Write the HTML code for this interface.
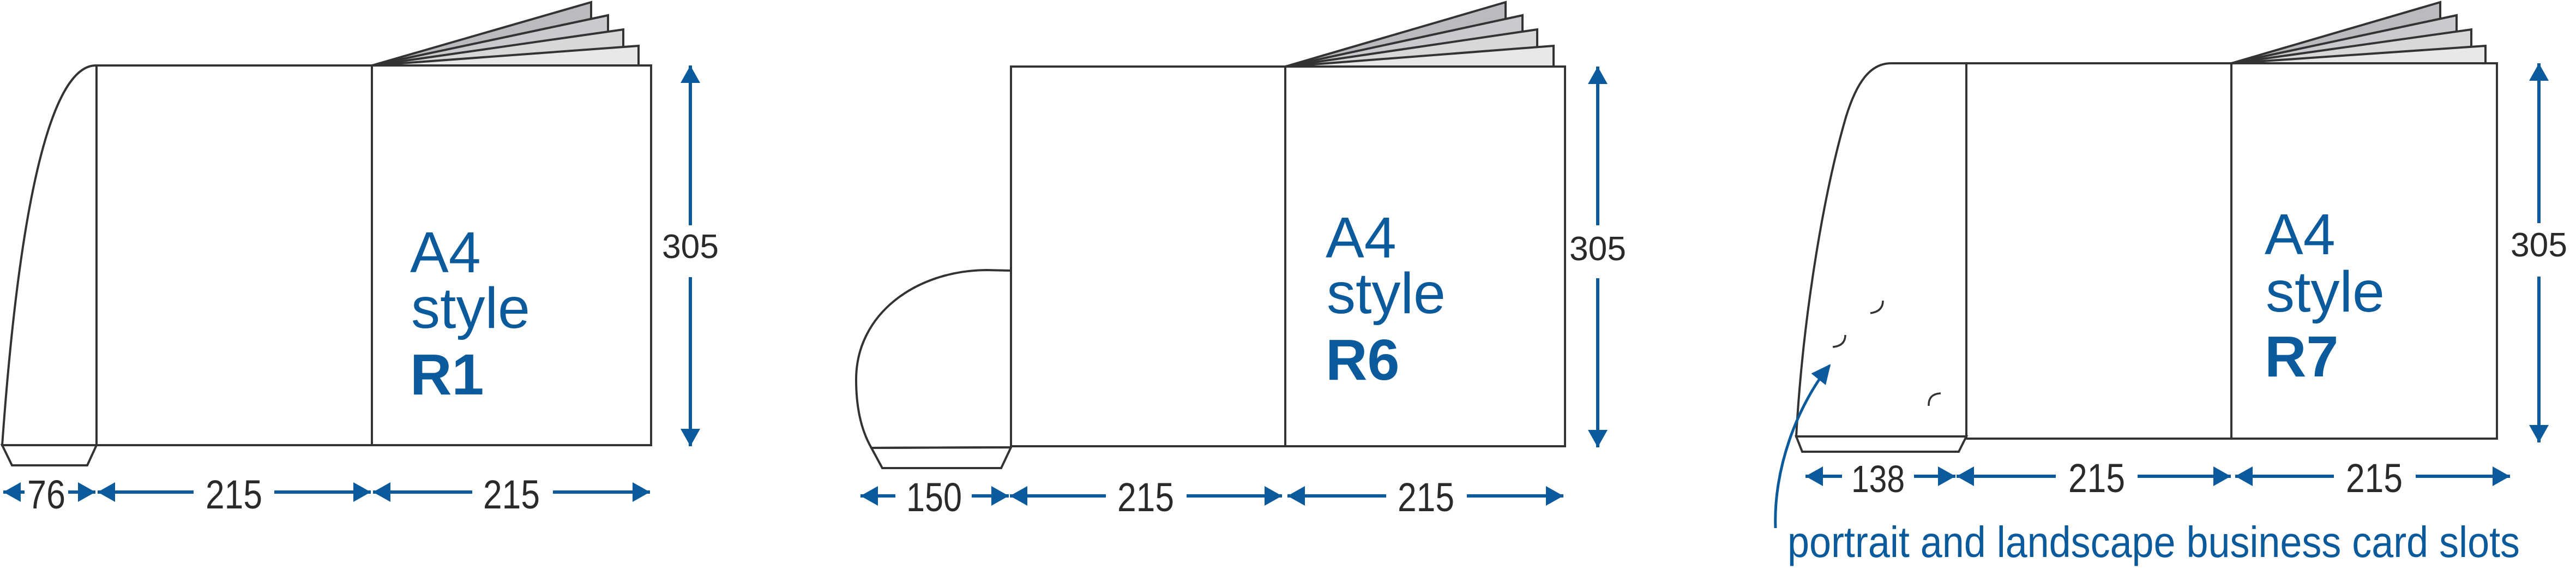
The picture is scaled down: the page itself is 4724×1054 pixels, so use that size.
<!DOCTYPE html>
<html><head><meta charset="utf-8"><style>html,body{margin:0;padding:0;background:#fff}svg{display:block}</style></head>
<body>
<svg width="4724" height="1054" viewBox="0 0 4724 1054" xmlns="http://www.w3.org/2000/svg">
<defs>
<marker id="ah" viewBox="0 0 10 10" refX="10" refY="5" markerWidth="32" markerHeight="36" markerUnits="userSpaceOnUse" orient="auto-start-reverse" preserveAspectRatio="none">
<path d="M0,0 L10,5 L0,10 z" fill="#0b5a9c"/></marker>
<marker id="ah2" viewBox="0 0 10 10" refX="9" refY="5" markerWidth="36" markerHeight="34" markerUnits="userSpaceOnUse" orient="auto" preserveAspectRatio="none">
<path d="M0,0 L10,5 L0,10 z" fill="#0b5a9c"/></marker>
</defs>
<g fill="none" stroke="#333" stroke-width="4" stroke-linejoin="miter">
<!-- R1 -->
<polygon points="682,120 1084,4 1084,120" fill="#b9bbbe"/>
<polygon points="682,120 1115,28 1115,120" fill="#c9cacd"/>
<polygon points="682,120 1143,54 1143,120" fill="#d7d8da"/>
<polygon points="682,120 1171,84 1171,120" fill="#e7e8e9"/>
<rect x="177" y="120" width="1017" height="696" fill="#fff"/>
<path d="M177,120 C120,118 45,240 4,816 L177,816" fill="#fff"/>
<line x1="177" y1="120" x2="177" y2="816"/>
<line x1="682" y1="120" x2="682" y2="816"/>
<polygon points="4,816 22,853 160,853 177,816"/>
<!-- R6 -->
<polygon points="2357,122 2761,4 2761,122" fill="#b9bbbe"/>
<polygon points="2357,122 2792,28 2792,122" fill="#c9cacd"/>
<polygon points="2357,122 2819,54 2819,122" fill="#d7d8da"/>
<polygon points="2357,122 2849,84 2849,122" fill="#e7e8e9"/>
<rect x="1854" y="122" width="1016" height="696" fill="#fff"/>
<line x1="2357" y1="122" x2="2357" y2="818"/>
<path d="M1852,496 L1809,495 C1680,496 1570,575 1570,696 C1570,755 1583,795 1598,821 L1854,820"/>
<polygon points="1598,821 1618,858 1836,858 1854,820"/>
<!-- R7 -->
<polygon points="4092,116 4475,4 4475,116" fill="#b9bbbe"/>
<polygon points="4092,116 4505,28 4505,116" fill="#c9cacd"/>
<polygon points="4092,116 4532,54 4532,116" fill="#d7d8da"/>
<polygon points="4092,116 4558,84 4558,116" fill="#e7e8e9"/>
<rect x="3606" y="116" width="973" height="688" fill="#fff"/>
<path d="M3606,116 L3468,116 C3430,116 3405,150 3385,215 C3340,370 3305,600 3294,800 L3606,800" fill="#fff"/>
<line x1="3606" y1="116" x2="3606" y2="804"/>
<line x1="4092" y1="116" x2="4092" y2="804"/>
<polygon points="3294,800 3305,828 3592,828 3606,800"/>
</g>
<g fill="none" stroke="#333" stroke-width="3.5">
<path d="M3453,551 q0,20 -23,23"/>
<path d="M3384,614 q0,20 -23,22"/>
<path d="M3537,744 q-1,-22 22,-23"/>
</g>
<!-- dimension arrows -->
<g stroke="#0b5a9c" stroke-width="6" fill="none">
<line x1="6" y1="902" x2="175" y2="902" marker-start="url(#ah)" marker-end="url(#ah)"/>
<line x1="179" y1="902" x2="680" y2="902" marker-start="url(#ah)" marker-end="url(#ah)"/>
<line x1="684" y1="902" x2="1192" y2="902" marker-start="url(#ah)" marker-end="url(#ah)"/>
<line x1="1266" y1="120" x2="1266" y2="818" marker-start="url(#ah)" marker-end="url(#ah)"/>
<line x1="1578" y1="909" x2="1850" y2="909" marker-start="url(#ah)" marker-end="url(#ah)"/>
<line x1="1852" y1="909" x2="2351" y2="909" marker-start="url(#ah)" marker-end="url(#ah)"/>
<line x1="2361" y1="909" x2="2867" y2="909" marker-start="url(#ah)" marker-end="url(#ah)"/>
<line x1="2930" y1="122" x2="2930" y2="820" marker-start="url(#ah)" marker-end="url(#ah)"/>
<line x1="3311" y1="873" x2="3586" y2="873" marker-start="url(#ah)" marker-end="url(#ah)"/>
<line x1="3588" y1="873" x2="4091" y2="873" marker-start="url(#ah)" marker-end="url(#ah)"/>
<line x1="4099" y1="873" x2="4603" y2="873" marker-start="url(#ah)" marker-end="url(#ah)"/>
<line x1="4656" y1="116" x2="4656" y2="811" marker-start="url(#ah)" marker-end="url(#ah)"/>
<path d="M3256,968 C3252,860 3295,745 3355,670" stroke-width="5" marker-end="url(#ah2)"/>
</g>
<!-- white gaps behind dimension numbers -->
<g fill="#fff">
<rect x="45" y="870" width="80" height="70"/>
<rect x="355" y="870" width="148" height="70"/>
<rect x="866" y="870" width="148" height="70"/>
<rect x="1230" y="413" width="72" height="95"/>
<rect x="1642" y="875" width="140" height="70"/>
<rect x="2028" y="875" width="148" height="70"/>
<rect x="2542" y="875" width="148" height="70"/>
<rect x="2894" y="413" width="72" height="97"/>
<rect x="3378" y="840" width="132" height="70"/>
<rect x="3770" y="840" width="150" height="70"/>
<rect x="4280" y="840" width="150" height="70"/>
<rect x="4620" y="409" width="72" height="98"/>
</g>
<g font-family="Liberation Sans, Arial, sans-serif" fill="#2b2a2a" text-anchor="middle">
<text x="85" y="932" font-size="74" textLength="70" lengthAdjust="spacingAndGlyphs">76</text>
<text x="429" y="932" font-size="74" textLength="104" lengthAdjust="spacingAndGlyphs">215</text>
<text x="938" y="932" font-size="74" textLength="104" lengthAdjust="spacingAndGlyphs">215</text>
<text x="1266" y="473" font-size="62" textLength="104" lengthAdjust="spacingAndGlyphs">305</text>
<text x="1713" y="937" font-size="74" textLength="102" lengthAdjust="spacingAndGlyphs">150</text>
<text x="2101" y="937" font-size="74" textLength="104" lengthAdjust="spacingAndGlyphs">215</text>
<text x="2615" y="937" font-size="74" textLength="104" lengthAdjust="spacingAndGlyphs">215</text>
<text x="2930" y="477" font-size="62" textLength="104" lengthAdjust="spacingAndGlyphs">305</text>
<text x="3444" y="902" font-size="70" textLength="98" lengthAdjust="spacingAndGlyphs">138</text>
<text x="3845" y="902" font-size="74" textLength="104" lengthAdjust="spacingAndGlyphs">215</text>
<text x="4354" y="902" font-size="74" textLength="104" lengthAdjust="spacingAndGlyphs">215</text>
<text x="4656" y="470" font-size="62" textLength="104" lengthAdjust="spacingAndGlyphs">305</text>
</g>
<g font-family="Liberation Sans, Arial, sans-serif" fill="#0b5a9c">
<text x="752" y="499" font-size="106">A4</text>
<text x="754" y="601" font-size="106">style</text>
<text x="752" y="723" font-size="106" font-weight="bold">R1</text>
<text x="2431" y="472" font-size="106">A4</text>
<text x="2433" y="574" font-size="106">style</text>
<text x="2431" y="696" font-size="106" font-weight="bold">R6</text>
<text x="4153" y="466" font-size="106">A4</text>
<text x="4155" y="571" font-size="106">style</text>
<text x="4153" y="690" font-size="106" font-weight="bold">R7</text>
<text x="3278" y="1021" font-size="80" textLength="1343" lengthAdjust="spacingAndGlyphs">portrait and landscape business card slots</text>
</g>
</svg>
</body></html>
